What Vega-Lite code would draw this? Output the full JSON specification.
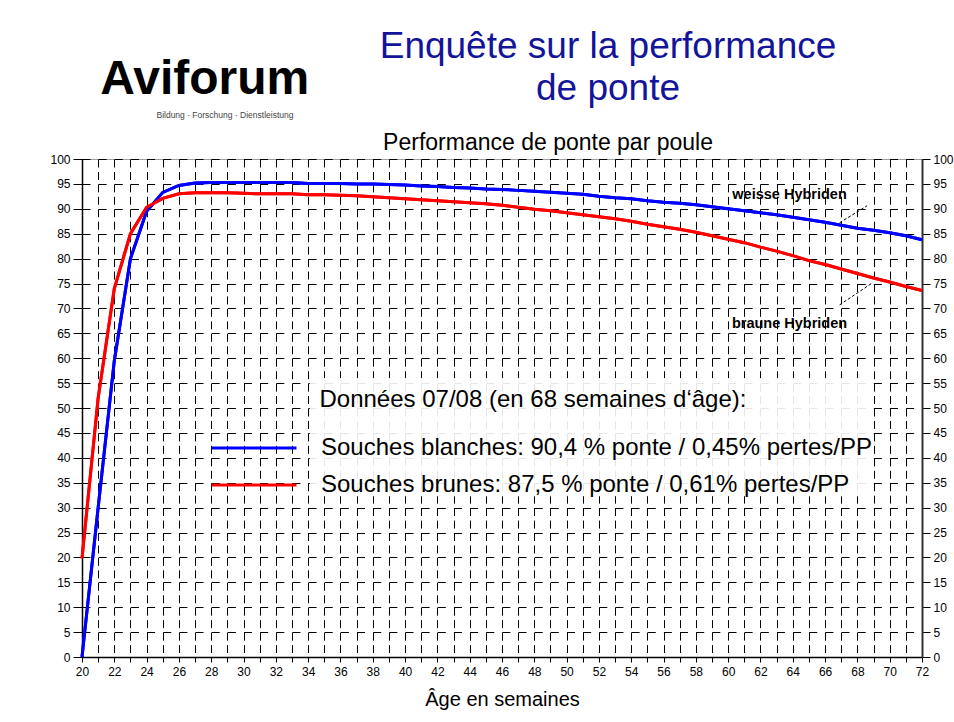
{
  "$schema": "https://vega.github.io/schema/vega-lite/v6.json",
  "width": 840,
  "height": 498,
  "autosize": {"type": "none"},
  "padding": {"left": 82, "top": 159, "right": 32, "bottom": 65},
  "background": "white",
  "config": {
    "font": "Liberation Sans",
    "view": {"stroke": "#a0a0a0", "strokeWidth": 1},
    "axisX": {"labelOverlap": false, "labelFlush": false, "tickCount": 52, "labelSeparation": 0}
  },
  "title": {
    "text": ["Enquête sur la performance", "de ponte"],
    "color": "#14149b",
    "fontSize": 37,
    "fontWeight": "normal",
    "font": "Liberation Sans",
    "anchor": "middle",
    "dx": 106,
    "offset": -89,
    "lineHeight": 42,
    "baseline": "bottom"
  },
  "data": {
    "values": [
      {"semaine": 20, "souche": "blanches", "ponte": 0},
      {"semaine": 21, "souche": "blanches", "ponte": 30},
      {"semaine": 22, "souche": "blanches", "ponte": 59.5},
      {"semaine": 23, "souche": "blanches", "ponte": 80},
      {"semaine": 24, "souche": "blanches", "ponte": 89.5},
      {"semaine": 25, "souche": "blanches", "ponte": 93.3},
      {"semaine": 26, "souche": "blanches", "ponte": 94.7},
      {"semaine": 27, "souche": "blanches", "ponte": 95.2},
      {"semaine": 28, "souche": "blanches", "ponte": 95.3},
      {"semaine": 29, "souche": "blanches", "ponte": 95.3},
      {"semaine": 30, "souche": "blanches", "ponte": 95.3},
      {"semaine": 31, "souche": "blanches", "ponte": 95.3},
      {"semaine": 32, "souche": "blanches", "ponte": 95.3},
      {"semaine": 33, "souche": "blanches", "ponte": 95.3},
      {"semaine": 34, "souche": "blanches", "ponte": 95.1},
      {"semaine": 35, "souche": "blanches", "ponte": 95.1},
      {"semaine": 36, "souche": "blanches", "ponte": 95.1},
      {"semaine": 37, "souche": "blanches", "ponte": 95.0},
      {"semaine": 38, "souche": "blanches", "ponte": 95.0},
      {"semaine": 39, "souche": "blanches", "ponte": 94.9},
      {"semaine": 40, "souche": "blanches", "ponte": 94.8},
      {"semaine": 41, "souche": "blanches", "ponte": 94.6},
      {"semaine": 42, "souche": "blanches", "ponte": 94.5},
      {"semaine": 43, "souche": "blanches", "ponte": 94.3},
      {"semaine": 44, "souche": "blanches", "ponte": 94.2},
      {"semaine": 45, "souche": "blanches", "ponte": 94.0},
      {"semaine": 46, "souche": "blanches", "ponte": 93.9},
      {"semaine": 47, "souche": "blanches", "ponte": 93.7},
      {"semaine": 48, "souche": "blanches", "ponte": 93.5},
      {"semaine": 49, "souche": "blanches", "ponte": 93.3},
      {"semaine": 50, "souche": "blanches", "ponte": 93.1},
      {"semaine": 51, "souche": "blanches", "ponte": 92.9},
      {"semaine": 52, "souche": "blanches", "ponte": 92.5},
      {"semaine": 53, "souche": "blanches", "ponte": 92.2},
      {"semaine": 54, "souche": "blanches", "ponte": 92.0},
      {"semaine": 55, "souche": "blanches", "ponte": 91.6},
      {"semaine": 56, "souche": "blanches", "ponte": 91.3},
      {"semaine": 57, "souche": "blanches", "ponte": 91.1},
      {"semaine": 58, "souche": "blanches", "ponte": 90.8},
      {"semaine": 59, "souche": "blanches", "ponte": 90.4},
      {"semaine": 60, "souche": "blanches", "ponte": 90.0},
      {"semaine": 61, "souche": "blanches", "ponte": 89.6},
      {"semaine": 62, "souche": "blanches", "ponte": 89.2},
      {"semaine": 63, "souche": "blanches", "ponte": 88.8},
      {"semaine": 64, "souche": "blanches", "ponte": 88.3},
      {"semaine": 65, "souche": "blanches", "ponte": 87.8},
      {"semaine": 66, "souche": "blanches", "ponte": 87.3},
      {"semaine": 67, "souche": "blanches", "ponte": 86.7},
      {"semaine": 68, "souche": "blanches", "ponte": 86.1},
      {"semaine": 69, "souche": "blanches", "ponte": 85.7},
      {"semaine": 70, "souche": "blanches", "ponte": 85.2},
      {"semaine": 71, "souche": "blanches", "ponte": 84.6},
      {"semaine": 72, "souche": "blanches", "ponte": 83.8},
      {"semaine": 20, "souche": "brunes", "ponte": 19.8},
      {"semaine": 21, "souche": "brunes", "ponte": 52},
      {"semaine": 22, "souche": "brunes", "ponte": 74},
      {"semaine": 23, "souche": "brunes", "ponte": 85},
      {"semaine": 24, "souche": "brunes", "ponte": 90.3},
      {"semaine": 25, "souche": "brunes", "ponte": 92.1},
      {"semaine": 26, "souche": "brunes", "ponte": 93.0},
      {"semaine": 27, "souche": "brunes", "ponte": 93.2},
      {"semaine": 28, "souche": "brunes", "ponte": 93.2},
      {"semaine": 29, "souche": "brunes", "ponte": 93.2},
      {"semaine": 30, "souche": "brunes", "ponte": 93.1},
      {"semaine": 31, "souche": "brunes", "ponte": 93.0},
      {"semaine": 32, "souche": "brunes", "ponte": 93.0},
      {"semaine": 33, "souche": "brunes", "ponte": 93.0},
      {"semaine": 34, "souche": "brunes", "ponte": 92.8},
      {"semaine": 35, "souche": "brunes", "ponte": 92.8},
      {"semaine": 36, "souche": "brunes", "ponte": 92.7},
      {"semaine": 37, "souche": "brunes", "ponte": 92.6},
      {"semaine": 38, "souche": "brunes", "ponte": 92.4},
      {"semaine": 39, "souche": "brunes", "ponte": 92.2},
      {"semaine": 40, "souche": "brunes", "ponte": 92.0},
      {"semaine": 41, "souche": "brunes", "ponte": 91.8},
      {"semaine": 42, "souche": "brunes", "ponte": 91.6},
      {"semaine": 43, "souche": "brunes", "ponte": 91.4},
      {"semaine": 44, "souche": "brunes", "ponte": 91.2},
      {"semaine": 45, "souche": "brunes", "ponte": 91.0},
      {"semaine": 46, "souche": "brunes", "ponte": 90.7},
      {"semaine": 47, "souche": "brunes", "ponte": 90.3},
      {"semaine": 48, "souche": "brunes", "ponte": 89.9},
      {"semaine": 49, "souche": "brunes", "ponte": 89.6},
      {"semaine": 50, "souche": "brunes", "ponte": 89.2},
      {"semaine": 51, "souche": "brunes", "ponte": 88.8},
      {"semaine": 52, "souche": "brunes", "ponte": 88.4},
      {"semaine": 53, "souche": "brunes", "ponte": 88.0},
      {"semaine": 54, "souche": "brunes", "ponte": 87.5},
      {"semaine": 55, "souche": "brunes", "ponte": 86.9},
      {"semaine": 56, "souche": "brunes", "ponte": 86.4},
      {"semaine": 57, "souche": "brunes", "ponte": 85.9},
      {"semaine": 58, "souche": "brunes", "ponte": 85.3},
      {"semaine": 59, "souche": "brunes", "ponte": 84.6},
      {"semaine": 60, "souche": "brunes", "ponte": 83.9},
      {"semaine": 61, "souche": "brunes", "ponte": 83.2},
      {"semaine": 62, "souche": "brunes", "ponte": 82.3},
      {"semaine": 63, "souche": "brunes", "ponte": 81.5},
      {"semaine": 64, "souche": "brunes", "ponte": 80.6},
      {"semaine": 65, "souche": "brunes", "ponte": 79.6},
      {"semaine": 66, "souche": "brunes", "ponte": 78.8},
      {"semaine": 67, "souche": "brunes", "ponte": 77.9},
      {"semaine": 68, "souche": "brunes", "ponte": 77.0},
      {"semaine": 69, "souche": "brunes", "ponte": 76.1},
      {"semaine": 70, "souche": "brunes", "ponte": 75.3},
      {"semaine": 71, "souche": "brunes", "ponte": 74.4},
      {"semaine": 72, "souche": "brunes", "ponte": 73.6}
    ]
  },
  "resolve": {"axis": {"y": "independent"}},
  "layer": [
    {
      "mark": {"type": "line", "strokeWidth": 3},
      "encoding": {
        "x": {
          "field": "semaine",
          "type": "quantitative",
          "scale": {"domain": [20, 72], "nice": false, "zero": false},
          "axis": {
            "title": "Âge en semaines",
            "titleFontSize": 20,
            "titleFontWeight": "normal",
            "titleColor": "black",
            "titlePadding": 12,
            "tickCount": 52,
            "labelExpr": "(datum.value % 2 === 0) ? datum.label : ''",
            "labelOverlap": false,
            "labelFlush": false,
            "labelSeparation": 0,
            "labelFontSize": 12,
            "labelColor": "black",
            "labelPadding": 4,
            "tickSize": 5,
            "tickColor": "black",
            "domainColor": "black",
            "domainWidth": 1.5,
            "grid": true,
            "gridColor": "black",
            "gridOpacity": 1,
            "gridWidth": 1,
            "gridDash": [8, 4.45]
          }
        },
        "y": {
          "field": "ponte",
          "type": "quantitative",
          "scale": {"domain": [0, 100], "nice": false},
          "axis": {
            "title": null,
            "values": [0,5,10,15,20,25,30,35,40,45,50,55,60,65,70,75,80,85,90,95,100],
            "labelFontSize": 12,
            "labelColor": "black",
            "labelPadding": 3,
            "tickSize": 9,
            "tickColor": "black",
            "domainColor": "black",
            "domainWidth": 1.5,
            "grid": true,
            "gridColor": "black",
            "gridOpacity": 1,
            "gridWidth": 1,
            "gridDash": [8, 8.15]
          }
        },
        "color": {
          "field": "souche",
          "type": "nominal",
          "scale": {"domain": ["blanches", "brunes"], "range": ["#0000ff", "#ff0000"]},
          "legend": {
            "orient": "none",
            "legendX": 160,
            "legendY": 277,
            "title": null,
            "padding": 0,
            "symbolType": "M-5,0H5",
            "symbolSize": 289,
            "symbolStrokeWidth": 3,
            "labelFontSize": 24,
            "labelColor": "black",
            "labelOffset": 55,
            "labelLimit": 800,
            "rowPadding": 13,
            "labelExpr": "datum.label == 'blanches' ? 'Souches blanches: 90,4 % ponte / 0,45% pertes/PP' : 'Souches brunes: 87,5 % ponte / 0,61% pertes/PP'"
          }
        }
      }
    },
    {
      "data": {"values": [{}]},
      "mark": {"type": "rect", "fill": "white", "fillOpacity": 0.9},
      "encoding": {
        "x": {"datum": 34.1, "type": "quantitative"},
        "x2": {"datum": 68.8},
        "y": {"datum": 56.0, "type": "quantitative", "axis": null},
        "y2": {"datum": 32.3}
      }
    },
    {
      "mark": {"type": "line", "strokeWidth": 3},
      "encoding": {
        "x": {"field": "semaine", "type": "quantitative"},
        "y": {"field": "ponte", "type": "quantitative", "axis": null},
        "color": {"field": "souche", "type": "nominal"}
      }
    },
    {
      "mark": {"type": "line", "opacity": 0},
      "encoding": {
        "x": {"field": "semaine", "type": "quantitative"},
        "y": {
          "field": "ponte",
          "type": "quantitative",
          "axis": {
            "orient": "right",
            "title": null,
            "grid": false,
            "values": [0,5,10,15,20,25,30,35,40,45,50,55,60,65,70,75,80,85,90,95,100],
            "labelFontSize": 12,
            "labelColor": "black",
            "labelPadding": 3,
            "tickSize": 8,
            "tickColor": "black",
            "domainColor": "#333333",
            "domainWidth": 2
          }
        },
        "detail": {"field": "souche", "type": "nominal"}
      }
    },
    {
      "data": {"values": [{}]},
      "mark": {"type": "text", "text": "Données 07/08 (en 68 semaines d‘âge):", "align": "left", "baseline": "middle", "fontSize": 24, "color": "black"},
      "encoding": {
        "x": {"datum": 34.7, "type": "quantitative"},
        "y": {"datum": 51.6, "type": "quantitative", "axis": null}
      }
    },
    {
      "data": {"values": [{}]},
      "mark": {"type": "text", "text": "Performance de ponte par poule", "align": "center", "baseline": "middle", "fontSize": 23, "color": "black"},
      "encoding": {
        "x": {"datum": 48.85, "type": "quantitative"},
        "y": {"datum": 103.2, "type": "quantitative", "axis": null}
      }
    },
    {
      "data": {"values": [{}]},
      "mark": {"type": "text", "text": "Aviforum", "align": "center", "baseline": "middle", "fontSize": 48, "fontWeight": "bold", "color": "black"},
      "encoding": {
        "x": {"datum": 27.6, "type": "quantitative"},
        "y": {"datum": 115.9, "type": "quantitative", "axis": null}
      }
    },
    {
      "data": {"values": [{}]},
      "mark": {"type": "text", "text": "Bildung · Forschung · Dienstleistung", "align": "center", "baseline": "middle", "fontSize": 8.5, "color": "#444444"},
      "encoding": {
        "x": {"datum": 28.85, "type": "quantitative"},
        "y": {"datum": 108.8, "type": "quantitative", "axis": null}
      }
    },
    {
      "data": {"values": [{}]},
      "mark": {"type": "text", "text": "weisse Hybriden", "align": "center", "baseline": "middle", "fontSize": 14.5, "fontWeight": "bold", "color": "black"},
      "encoding": {
        "x": {"datum": 63.8, "type": "quantitative"},
        "y": {"datum": 92.8, "type": "quantitative", "axis": null}
      }
    },
    {
      "data": {"values": [{}]},
      "mark": {"type": "text", "text": "braune Hybriden", "align": "center", "baseline": "middle", "fontSize": 14.5, "fontWeight": "bold", "color": "black"},
      "encoding": {
        "x": {"datum": 63.8, "type": "quantitative"},
        "y": {"datum": 66.9, "type": "quantitative", "axis": null}
      }
    },
    {
      "data": {"values": [{}]},
      "mark": {"type": "rule", "color": "black", "strokeWidth": 1, "strokeDash": [3, 2]},
      "encoding": {
        "x": {"datum": 66.9, "type": "quantitative"},
        "y": {"datum": 87.2, "type": "quantitative", "axis": null},
        "x2": {"datum": 68.6},
        "y2": {"datum": 90.6}
      }
    },
    {
      "data": {"values": [{}]},
      "mark": {"type": "rule", "color": "black", "strokeWidth": 1, "strokeDash": [3, 2]},
      "encoding": {
        "x": {"datum": 66.9, "type": "quantitative"},
        "y": {"datum": 70.7, "type": "quantitative", "axis": null},
        "x2": {"datum": 68.96},
        "y2": {"datum": 75.2}
      }
    }
  ]
}
